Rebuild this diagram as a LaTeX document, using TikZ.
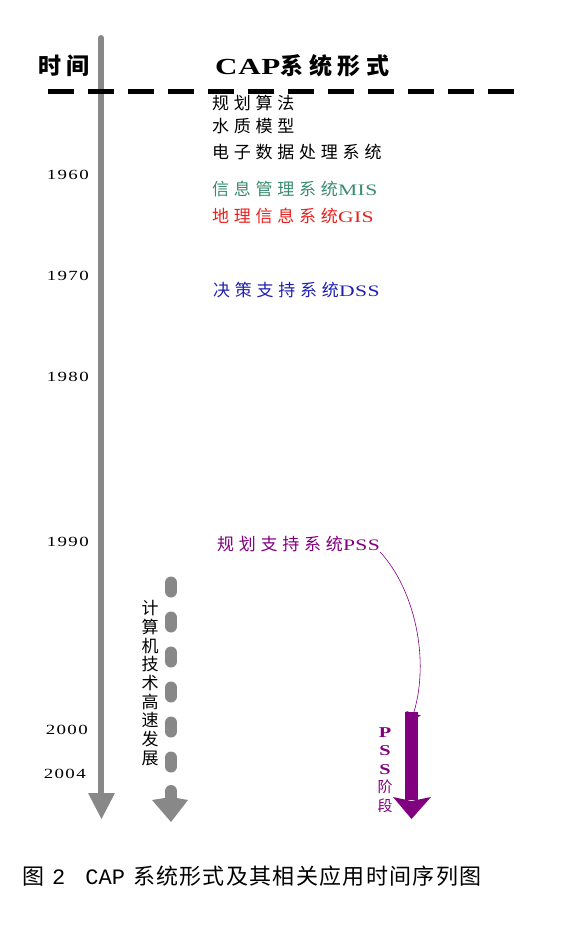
\documentclass[tikz,border=0pt]{standalone}
\usepackage{fontspec}
\setmainfont{Liberation Serif}
\newfontfamily\cjk{Noto Sans CJK SC}
\newfontfamily\cjksp[LetterSpace=28]{Noto Sans CJK SC}
\newfontfamily\cjkhead[LetterSpace=25]{Noto Sans CJK SC}
\newfontfamily\latsp[FakeStretch=1.35,LetterSpace=3]{Liberation Serif}
\newfontfamily\yearfont[FakeStretch=1.35,LetterSpace=10]{Liberation Serif}
\newfontfamily\capmono{Liberation Mono}
\newfontfamily\capcjk[LetterSpace=6]{Noto Sans CJK SC}
\usetikzlibrary{arrows.meta}
\definecolor{axisgray}{HTML}{888888}
\definecolor{misgreen}{HTML}{3A8C6E}
\definecolor{gisred}{HTML}{E8211E}
\definecolor{dssblue}{HTML}{2020B0}
\definecolor{psspurple}{HTML}{800080}
\begin{document}
\begin{tikzpicture}[x=1pt,y=-1pt,
  item/.style={anchor=west,inner sep=0pt,font=\fontsize{17}{19}\selectfont},
  yearlbl/.style={anchor=east,inner sep=0pt,font=\fontsize{14}{16}\selectfont\yearfont},
  headlbl/.style={inner sep=0pt,font=\fontsize{23}{25}\selectfont\bfseries},
  vtext/.style={inner sep=0pt,align=center}
]
\useasboundingbox (0,0) rectangle (570,927);
% main time axis
\coordinate (axTop) at (101,38);
\coordinate (axEnd) at (101,795);
\draw[axisgray,line width=6pt,line cap=round] (axTop) -- (axEnd);
\fill[axisgray] (88,793) -- (115,793) -- (101.5,819) -- cycle;
% dashed header rule
\coordinate (dashL) at (48,91);
\coordinate (dashR) at (522,91);
\draw[black,line width=5pt,dash pattern=on 26pt off 14pt] (dashL) -- (dashR);
% headers
\node[headlbl,anchor=west] (time) at (38,66) {\cjkhead 时间};
\node[headlbl,anchor=west] (cap) at (215,66) {{\latsp CAP}{\cjkhead 系统形式}};
% early items
\node[item] (plan) at (212,103) {\cjksp 规划算法};
\node[item] (water) at (212,126) {\cjksp 水质模型};
\node[item] (edp) at (212,152) {\cjksp 电子数据处理系统};
\node[item,text=misgreen] (mis) at (212,189) {{\cjksp 信息管理系统}{\latsp\fontsize{16}{19}\selectfont MIS}};
\node[item,text=gisred] (gis) at (212,216) {{\cjksp 地理信息系统}{\latsp\fontsize{16}{19}\selectfont GIS}};
\node[item,text=dssblue] (dss) at (213,290) {{\cjksp 决策支持系统}{\latsp\fontsize{16}{19}\selectfont DSS}};
\node[item,text=psspurple] (pss) at (217,544) {{\cjksp 规划支持系统}{\latsp\fontsize{16}{19}\selectfont PSS}};
% years
\node[yearlbl] (y60) at (89,175) {1960};
\node[yearlbl] (y70) at (89,276) {1970};
\node[yearlbl] (y80) at (89,377) {1980};
\node[yearlbl] (y90) at (89,542) {1990};
\node[yearlbl] (y00) at (88,730) {2000};
\node[yearlbl] (y04) at (86,774) {2004};
% computer technology dashed arrow
\coordinate (ctTop) at (171,582.5);
\coordinate (ctBot) at (171,772);
\draw[axisgray,line width=12pt,line cap=round,dash pattern=on 9pt off 26pt] (ctTop) -- (ctBot);
\draw[axisgray,line width=12pt,line cap=round] (171,791) -- (171,802);
\fill[axisgray] (152,800) -- (171,797) -- (188,800) -- (171,822) -- cycle;
\node[vtext,font=\fontsize{17}{18.7}\selectfont\cjk] (ct) at (150,683) {计\\算\\机\\技\\术\\高\\速\\发\\展};
% PSS stage arrow
\coordinate (pssTip) at (411.5,720);
\draw[psspurple,line width=13pt] (411.5,712) -- (411.5,800);
\fill[psspurple] (393,797) -- (411.5,801) -- (431,797) -- (411.5,819) -- cycle;
\draw[psspurple,line width=0.6pt,-{Triangle[length=7pt,width=15pt]}] (pss.south east) .. controls (415,590) and (430,660) .. (pssTip);
\node[vtext,text=psspurple,font=\fontsize{15}{18.5}\selectfont] (stage) at (385,770) {{\latsp\bfseries P}\\{\latsp\bfseries S}\\{\latsp\bfseries S}\\{\cjk 阶}\\{\cjk 段}};
% caption
\node[anchor=west,inner sep=0pt,font=\fontsize{22}{26}\selectfont] (caption) at (22,876) {{\cjk 图}\hspace{8pt}{\capmono 2}\hspace{20pt}{\capmono CAP}\hspace{8pt}{\capcjk 系统形式及其相关应用时间序列图}};
\end{tikzpicture}
\end{document}
